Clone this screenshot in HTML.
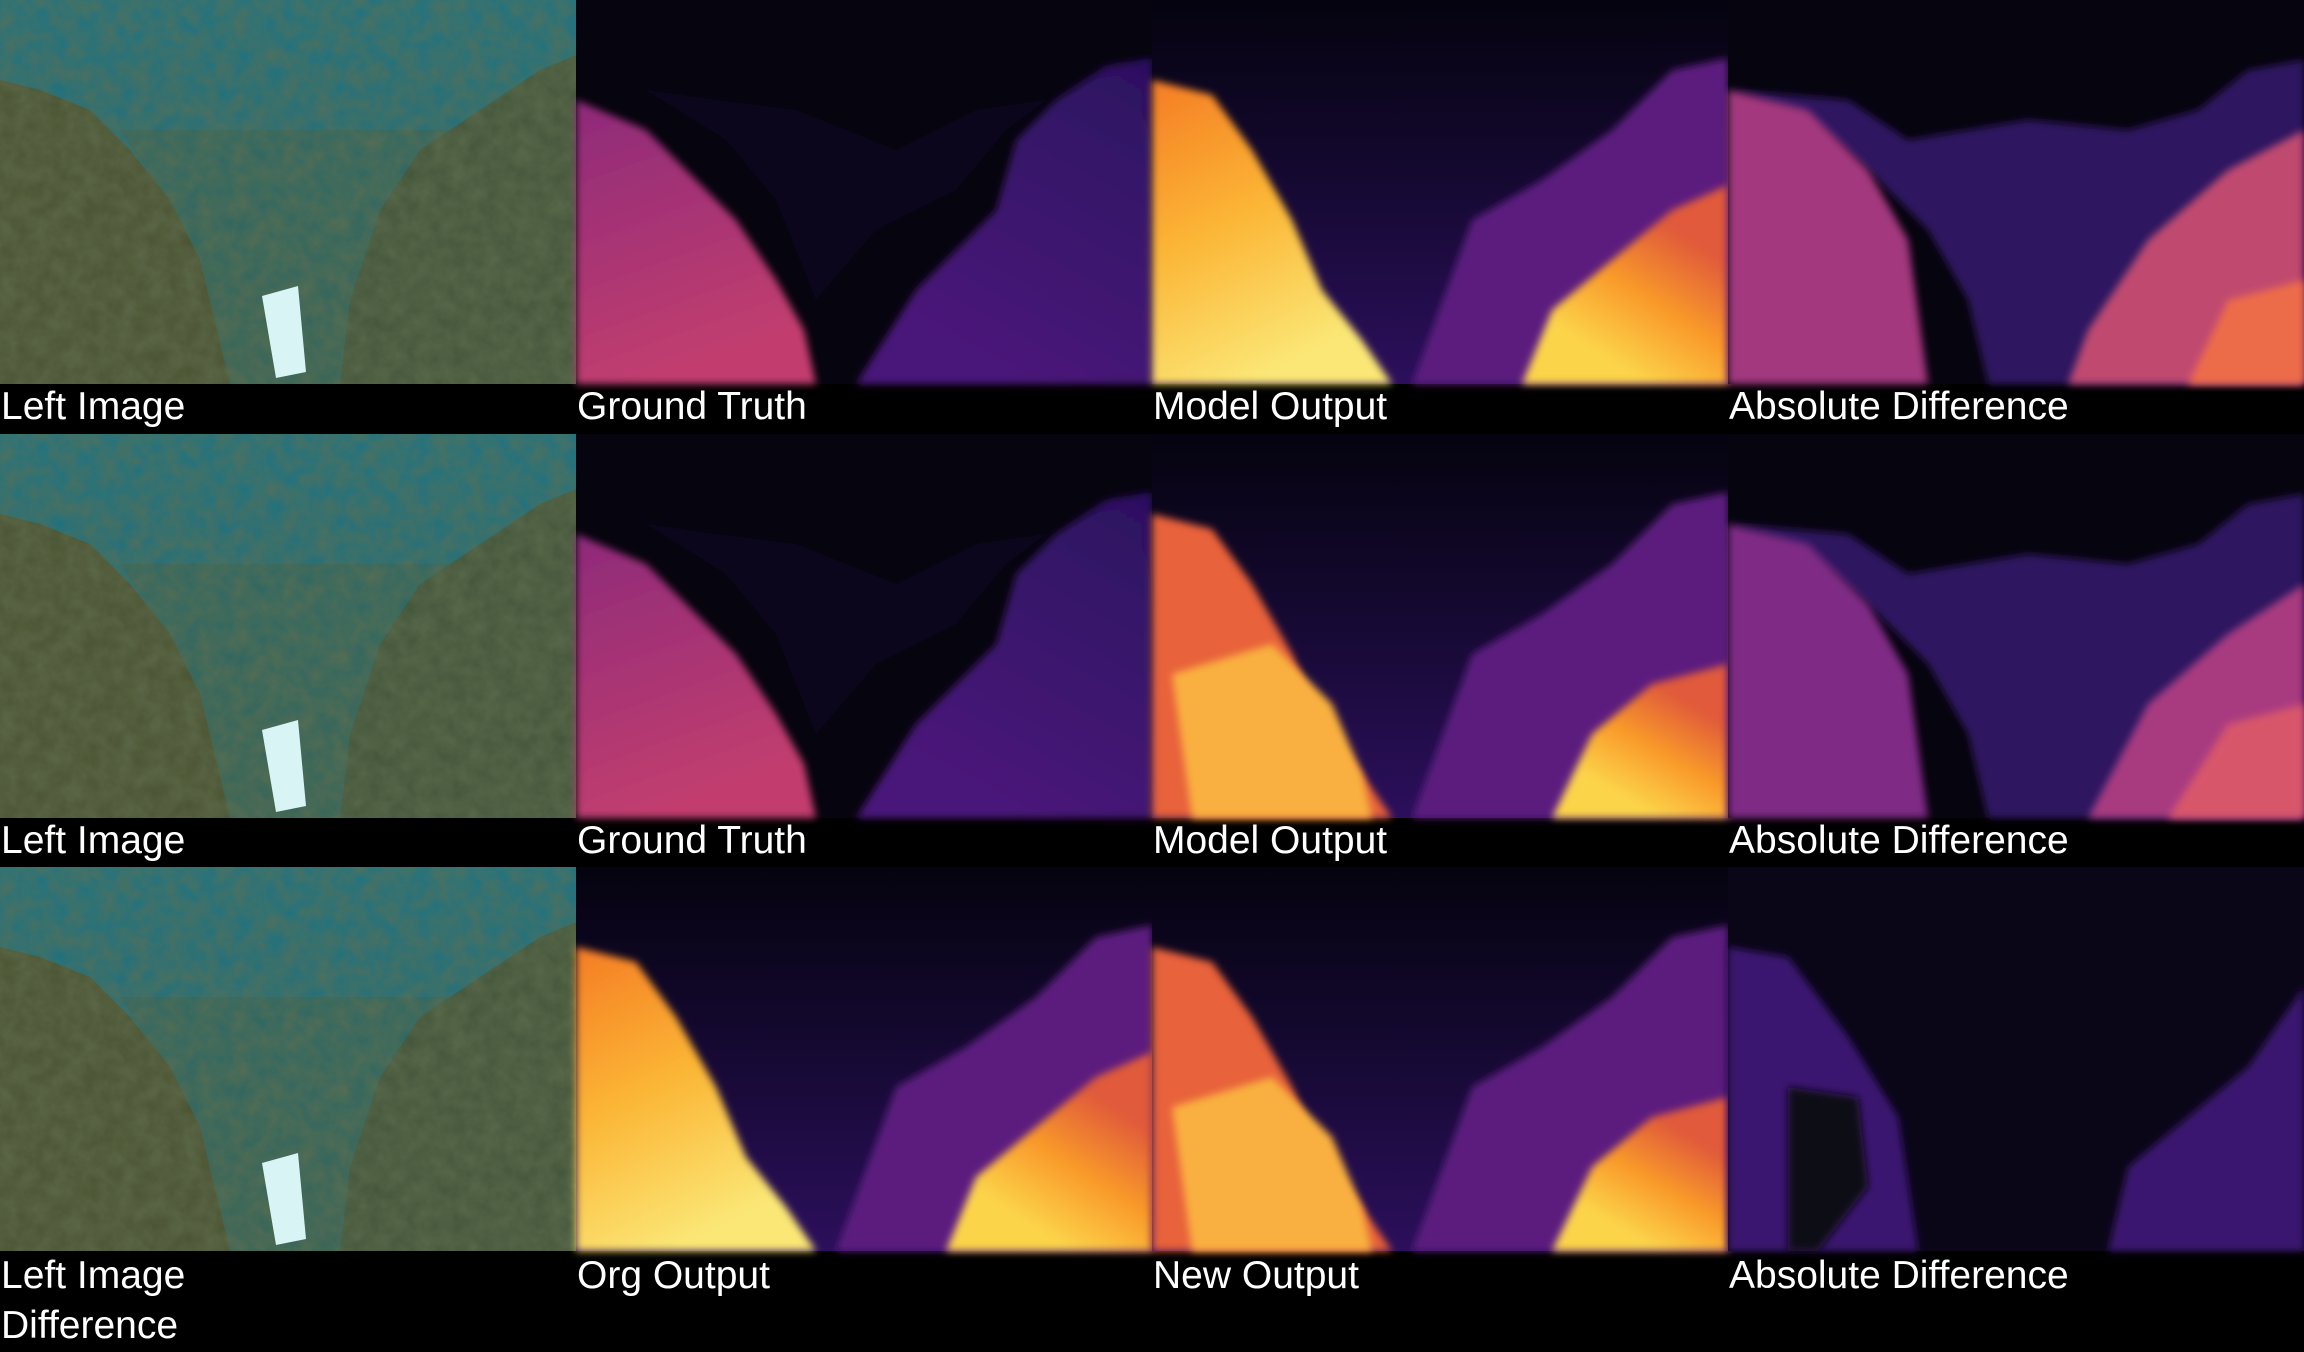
<!DOCTYPE html>
<html><head><meta charset="utf-8"><style>
html,body{margin:0;padding:0;background:#000;}
svg{display:block;}
text{font-family:"Liberation Sans",Arial,sans-serif;font-size:39px;fill:#fff;}
</style></head><body>
<svg width="2304" height="1352" viewBox="0 0 2304 1352" xmlns="http://www.w3.org/2000/svg">
<defs>
 <filter id="soft"><feGaussianBlur stdDeviation="4"/></filter>
 <filter id="tex"><feTurbulence type="fractalNoise" baseFrequency="0.06" numOctaves="3" seed="3"/><feColorMatrix values="0 0 0 0 0.12  0 0 0 0 0.16  0 0 0 0 0.08  0 0 0 1.2 -0.1"/><feComposite in2="SourceGraphic" operator="in"/></filter>
 <linearGradient id="water" x1="0" y1="0" x2="0" y2="1"><stop offset="0" stop-color="#1d7484"/><stop offset="0.45" stop-color="#256f78"/><stop offset="1" stop-color="#3e6658"/></linearGradient>
 <linearGradient id="topdark" x1="0" y1="0" x2="0" y2="1"><stop offset="0" stop-color="#05030f"/><stop offset="0.4" stop-color="#12082c"/><stop offset="1" stop-color="#2c0f5c"/></linearGradient>
 <linearGradient id="orangeL" x1="0" y1="0" x2="0.4" y2="1"><stop offset="0" stop-color="#f57c24"/><stop offset="0.5" stop-color="#fbb535"/><stop offset="1" stop-color="#fbe776"/></linearGradient>
 <linearGradient id="orangeR" x1="1" y1="0.4" x2="0.6" y2="1"><stop offset="0" stop-color="#e05a3a"/><stop offset="0.5" stop-color="#f99a2a"/><stop offset="1" stop-color="#fcd44a"/></linearGradient>
 <linearGradient id="magL" x1="0" y1="0" x2="0.3" y2="1"><stop offset="0" stop-color="#8e2a7a"/><stop offset="1" stop-color="#c23e6e"/></linearGradient>
 <linearGradient id="purpR" x1="1" y1="0" x2="0.5" y2="1"><stop offset="0" stop-color="#2b1160"/><stop offset="1" stop-color="#4a157a"/></linearGradient>

 <g id="photo">
  <rect width="576" height="384" fill="url(#water)"/>
  <path d="M120,130 L470,130 L420,220 L350,384 L220,384 L180,220Z" fill="#35655a" opacity="0.7"/>
  <path d="M0,80 L40,90 L90,110 L130,150 L170,200 L200,260 L230,384 L0,384Z" fill="#4c5534"/>
  <path d="M576,55 L540,70 L480,110 L420,150 L380,210 L350,300 L340,384 L576,384Z" fill="#45573c"/>
  <rect width="576" height="384" fill="#000" filter="url(#tex)" opacity="0.7"/>
  <path d="M262,296 L298,286 L306,372 L276,378Z" fill="#d8f4f4"/>
 </g>
 <g id="gt">
  <rect width="576" height="384" fill="#06040e"/>
  <path d="M0,100 L70,130 L110,170 L160,220 L200,280 L228,330 L240,384 L0,384Z" fill="url(#magL)" filter="url(#soft)"/>
  <path d="M576,58 L530,66 L480,100 L440,140 L420,210 L340,290 L280,384 L576,384Z" fill="url(#purpR)" filter="url(#soft)"/>
  <path d="M70,90 L140,100 L220,110 L320,150 L400,110 L470,100 L430,130 L380,190 L300,230 L240,300 L200,200 L150,140Z" fill="#0c0820" opacity="0.8"/>
 </g>
 <g id="model">
  <rect width="576" height="384" fill="url(#topdark)"/>
  <path d="M576,58 L520,70 L460,130 L390,180 L320,220 L260,384 L576,384Z" fill="#5b1f7e" filter="url(#soft)"/>
  <path d="M0,80 L60,95 L100,150 L140,220 L170,290 L210,340 L240,384 L0,384Z" fill="url(#orangeL)" filter="url(#soft)"/>
  <path d="M576,185 L520,210 L460,260 L400,310 L370,384 L576,384Z" fill="url(#orangeR)" filter="url(#soft)"/>
 </g>
 <g id="model2">
  <rect width="576" height="384" fill="url(#topdark)"/>
  <path d="M576,58 L520,70 L460,130 L390,180 L320,220 L260,384 L576,384Z" fill="#5b1f7e" filter="url(#soft)"/>
  <path d="M0,80 L60,95 L100,150 L140,220 L170,290 L210,340 L240,384 L0,384Z" fill="#e8623a" filter="url(#soft)"/>
  <path d="M20,240 L120,210 L180,270 L210,340 L220,384 L40,384Z" fill="#f9b040" filter="url(#soft)"/>
  <path d="M576,230 L500,250 L440,300 L400,384 L576,384Z" fill="url(#orangeR)" filter="url(#soft)"/>
 </g>
 <g id="diff1">
  <rect width="576" height="384" fill="#06040e"/>
  <path d="M0,90 L80,120 L140,170 L200,230 L240,300 L260,384 L576,384 L576,60 L520,70 L470,110 L400,130 L300,120 L180,140 L120,100Z" fill="#2e1760" filter="url(#soft)"/>
  <path d="M0,90 L80,110 L140,170 L180,240 L200,384 L0,384Z" fill="#a3397e" filter="url(#soft)"/>
  <path d="M576,130 L500,170 L420,240 L360,330 L340,384 L576,384Z" fill="#c04a70" filter="url(#soft)"/>
  <path d="M576,280 L500,300 L460,384 L576,384Z" fill="#ec6c48" filter="url(#soft)"/>
 </g>
 <g id="diff2">
  <rect width="576" height="384" fill="#06040e"/>
  <path d="M0,90 L80,120 L140,170 L200,230 L240,300 L260,384 L576,384 L576,60 L520,70 L470,110 L400,130 L300,120 L180,140 L120,100Z" fill="#2e1760" filter="url(#soft)"/>
  <path d="M0,90 L80,110 L140,170 L180,240 L200,384 L0,384Z" fill="#7f2a85" filter="url(#soft)"/>
  <path d="M576,150 L500,200 L420,270 L360,384 L576,384Z" fill="#a83a80" filter="url(#soft)"/>
  <path d="M576,270 L500,290 L440,384 L576,384Z" fill="#d8566a" filter="url(#soft)"/>
 </g>
 <g id="diff3">
  <rect width="576" height="384" fill="#0a0618"/>
  <path d="M0,80 L60,90 L120,170 L170,250 L190,384 L0,384Z" fill="#3a1670" filter="url(#soft)"/>
  <path d="M60,220 L130,230 L140,320 L90,384 L60,384Z" fill="#0a0818" filter="url(#soft)"/>
  <path d="M576,120 L520,200 L400,300 L380,384 L576,384Z" fill="#3a1670" filter="url(#soft)"/>
 </g>
</defs>

<g>
 <use href="#photo" x="0" y="0"/>
 <use href="#gt" x="576" y="0"/>
 <use href="#model" x="1152" y="0"/>
 <use href="#diff1" x="1728" y="0"/>
 <text x="1" y="419">Left Image</text>
 <text x="577" y="419">Ground Truth</text>
 <text x="1153" y="419">Model Output</text>
 <text x="1729" y="419">Absolute Difference</text>
</g>
<g>
 <use href="#photo" x="0" y="434"/>
 <use href="#gt" x="576" y="434"/>
 <use href="#model2" x="1152" y="434"/>
 <use href="#diff2" x="1728" y="434"/>
 <text x="1" y="853">Left Image</text>
 <text x="577" y="853">Ground Truth</text>
 <text x="1153" y="853">Model Output</text>
 <text x="1729" y="853">Absolute Difference</text>
</g>
<g>
 <use href="#photo" x="0" y="867"/>
 <use href="#model" x="576" y="867"/>
 <use href="#model2" x="1152" y="867"/>
 <use href="#diff3" x="1728" y="867"/>
 <text x="1" y="1288">Left Image</text>
 <text x="1" y="1338">Difference</text>
 <text x="577" y="1288">Org Output</text>
 <text x="1153" y="1288">New Output</text>
 <text x="1729" y="1288">Absolute Difference</text>
</g>
</svg>
</body></html>
